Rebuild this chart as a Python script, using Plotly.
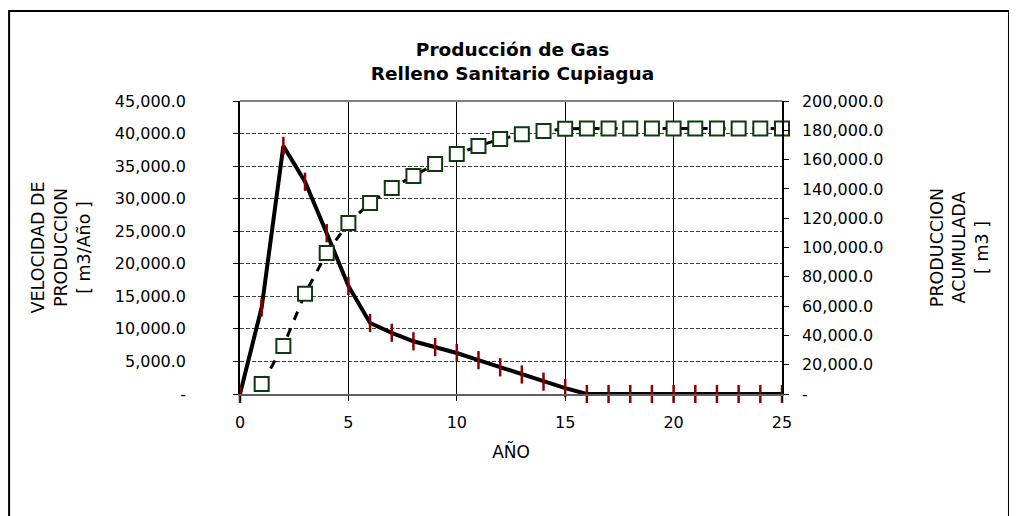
import plotly.graph_objects as go

years = list(range(0, 26))
velocidad = [0, 13300, 38100, 32600, 24700, 16600, 10900, 9400, 8100, 7200, 6300,
             5200, 4100, 3000, 1900, 900, 0, 0, 0, 0, 0, 0, 0, 0, 0, 0]
acumulada = [None, 6800, 32800, 68500, 96200, 116700, 130400, 140600, 148800, 157000,
             163800, 169300, 174000, 177300, 179500, 181000, 181300, 181300, 181300,
             181300, 181300, 181300, 181300, 181300, 181300, 181300]

left_ticks = list(range(0, 45001, 5000))
left_text = ["-"] + [f"{v:,.1f}" for v in left_ticks[1:]]
right_ticks = list(range(0, 200001, 20000))
right_text = ["-"] + [f"{v:,.1f}" for v in right_ticks[1:]]
x_ticks = [0, 5, 10, 15, 20, 25]

FONT = "DejaVu Sans, Arial, sans-serif"

fig = go.Figure()
fig.add_trace(go.Scatter(
    x=years, y=velocidad, mode="lines+markers", yaxis="y",
    line=dict(color="black", width=4),
    marker=dict(symbol="line-ns", size=13, line=dict(color="#8b0000", width=2.5), color="#8b0000"),
    showlegend=False, cliponaxis=False))
fig.add_trace(go.Scatter(
    x=years, y=acumulada, mode="lines+markers", yaxis="y2",
    line=dict(color="black", width=3, dash="dash"),
    marker=dict(symbol="square", size=14, color="white", line=dict(width=2, color="#0c3a0c")),
    showlegend=False, cliponaxis=False, connectgaps=False))

# top gray border of plot area
fig.add_shape(type="line", xref="paper", yref="paper", x0=0, x1=1, y0=1, y1=1,
              line=dict(color="#808080", width=2))
# outer chart border
fig.add_shape(type="rect", xref="paper", yref="paper",
              x0=-0.426, x1=1.4188, y0=-0.45, y1=1.307,
              line=dict(color="black", width=2))

fig.update_layout(
    width=1009, height=508,
    margin=dict(l=232, r=235, t=93, b=122),
    paper_bgcolor="white", plot_bgcolor="white",
    font=dict(family=FONT, size=16, color="black"),
    title=dict(text="<b>Producción de Gas<br>Relleno Sanitario Cupiagua</b>",
               x=0.5, xanchor="center", y=0.9055, yanchor="middle",
               font=dict(family=FONT, size=18.5, color="black")),
    xaxis=dict(range=[0, 25], tickvals=x_ticks, ticks="outside", ticklen=5,
               tickcolor="black", showgrid=True, gridcolor="black", gridwidth=1,
               ticklabelstandoff=8,
               showline=True, linecolor="#606060", linewidth=2, zeroline=False,
               title=dict(text="AÑO", standoff=15, font=dict(size=17)),
               tickfont=dict(size=16)),
    yaxis=dict(range=[0, 45000], tickvals=left_ticks, ticktext=left_text,
               ticks="outside", ticklen=5, tickcolor="black",
               ticklabelstandoff=44,
               showgrid=True, gridcolor="#404040", gridwidth=1, griddash="4px,2px",
               showline=True, linecolor="black", linewidth=1.5, zeroline=False,
               title=dict(text="VELOCIDAD DE<br>PRODUCCION<br>[ m3/Año ]", standoff=20,
                          font=dict(size=17.5)),
               tickfont=dict(size=16)),
    yaxis2=dict(range=[0, 200000], tickvals=right_ticks, ticktext=right_text,
                overlaying="y", side="right", anchor="x",
                ticks="outside", ticklen=5, tickcolor="black",
                ticklabelstandoff=10,
                showgrid=False, showline=True, linecolor="black", linewidth=1.5,
                zeroline=False,
                title=dict(text="PRODUCCION<br>ACUMULADA<br>[ m3 ]", standoff=48,
                           font=dict(size=17.5)),
                tickfont=dict(size=16)),
)

fig.write_html("out.html")
